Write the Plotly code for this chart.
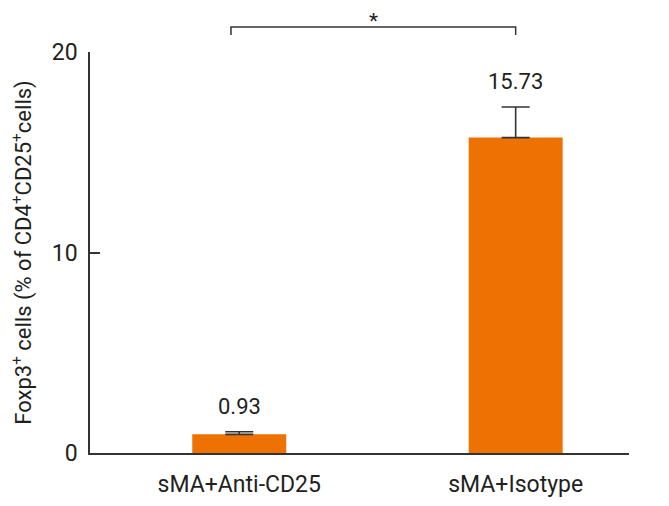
import plotly.graph_objects as go

categories = ["sMA+Anti-CD25", "sMA+Isotype"]
values = [0.93, 15.73]
errors = [0.13, 1.53]
value_labels = ["0.93", "15.73"]
y_ticks = [0, 10, 20]
y_max = 20
sig_label = "*"
sig_level = 21.25

FONT = "Roboto, Liberation Sans, sans-serif"
TXT = "#231f20"
ORANGE = "#ee7203"

xpos = list(range(len(categories)))

fig = go.Figure()
fig.add_trace(go.Bar(
    x=xpos, y=values, width=0.34,
    marker=dict(color=ORANGE, line=dict(width=0)),
    error_y=dict(type="data", array=errors, arrayminus=[0]*len(errors), symmetric=False,
                 color="#333333", thickness=1.6, width=14),
    hoverinfo="skip",
))

for x, v, e, lab in zip(xpos, values, errors, value_labels):
    fig.add_annotation(x=x, y=v + e, text=lab, showarrow=False, yanchor="bottom",
                       yshift=11, font=dict(size=22, color=TXT, family=FONT))

# significance bracket
x0, x1 = -0.03, 1.0
yb = sig_level / y_max
ydrop = (sig_level - 0.4) / y_max
fig.add_shape(type="path", xref="x", yref="paper",
              path=f"M {x0},{ydrop} L {x0},{yb} L {x1},{yb} L {x1},{ydrop}",
              line=dict(color="#333333", width=1.5))
fig.add_annotation(x=(x0 + x1) / 2, y=yb, xref="x", yref="paper", text=sig_label,
                   showarrow=False, yanchor="bottom", yshift=-8,
                   font=dict(size=21, color=TXT, family=FONT))

fig.update_layout(
    width=661, height=498,
    margin=dict(l=82, r=40, t=44, b=53),
    paper_bgcolor="white", plot_bgcolor="white",
    showlegend=False,
    font=dict(family=FONT, color=TXT),
)
fig.update_xaxes(
    range=[-0.54, 1.41], tickmode="array", tickvals=xpos, ticktext=categories,
    showline=True, linecolor="#333333", linewidth=1.5, ticks="", showgrid=False,
    zeroline=False, tickfont=dict(size=23, color=TXT, family=FONT), ticklabelstandoff=10,
    automargin=False,
)
fig.update_yaxes(
    range=[0, y_max], tickmode="array", tickvals=y_ticks,
    showline=True, linecolor="#333333", linewidth=1.5, ticks="inside", ticklen=10,
    tickcolor="#333333", tickwidth=1.5, showgrid=False, zeroline=False,
    tickfont=dict(size=23, color=TXT, family=FONT), ticklabelstandoff=6,
    automargin=False,
    title=dict(text="Foxp3<sup>+</sup> cells (% of CD4<sup>+</sup>CD25<sup>+</sup>cells)",
               font=dict(size=22, color=TXT, family=FONT), standoff=26),
)

fig.write_html("out.html")
